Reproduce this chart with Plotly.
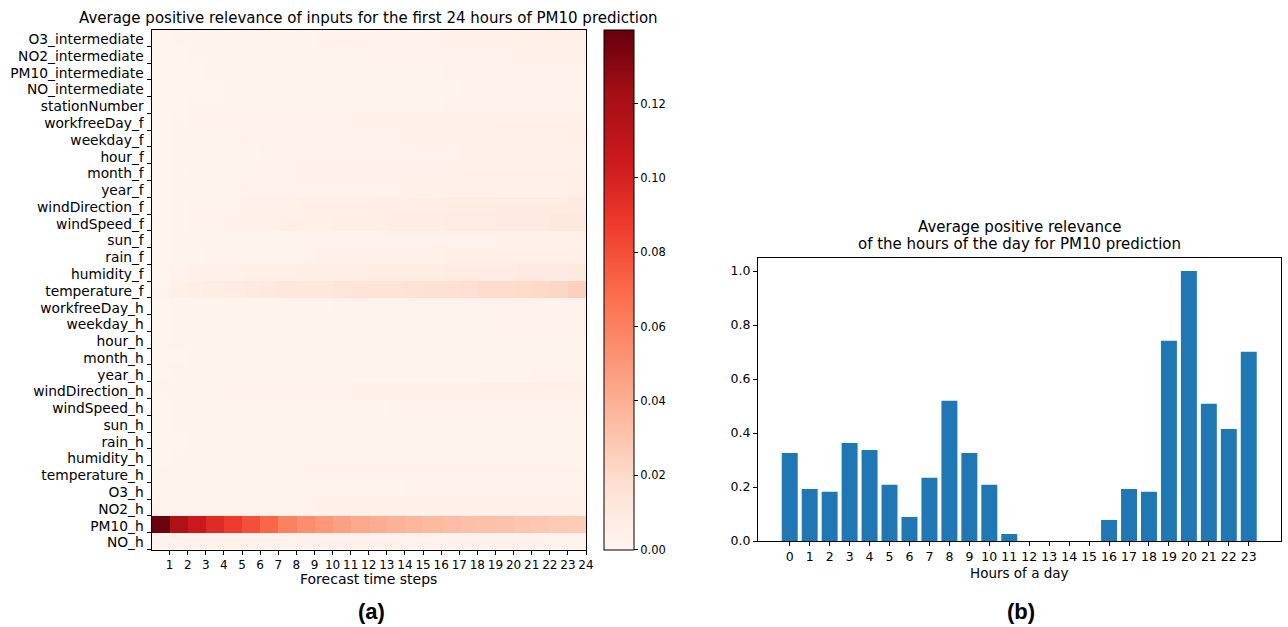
import plotly.graph_objects as go

W, H = 1288, 627

features = ["O3_intermediate", "NO2_intermediate", "PM10_intermediate", "NO_intermediate",
            "stationNumber", "workfreeDay_f", "weekday_f", "hour_f", "month_f", "year_f",
            "windDirection_f", "windSpeed_f", "sun_f", "rain_f", "humidity_f", "temperature_f",
            "workfreeDay_h", "weekday_h", "hour_h", "month_h", "year_h", "windDirection_h",
            "windSpeed_h", "sun_h", "rain_h", "humidity_h", "temperature_h", "O3_h", "NO2_h",
            "PM10_h", "NO_h"]
steps = list(range(1, 25))

# relevance values (x 0.001), rows in the order of `features`
O3_intermediate   = [1,2,2,2,2,2,2,2,2,3,3,3,3,3,3,3,4,4,4,4,5,5,5,5]
NO2_intermediate  = [1,1,2,2,2,2,2,2,2,2,2,2,3,3,3,3,3,3,3,3,4,4,4,4]
PM10_intermediate = [1,1,1,2,2,2,2,2,2,2,2,2,2,2,2,2,3,3,3,3,3,3,3,3]
NO_intermediate   = [1,1,1,1,2,2,2,2,2,2,2,2,2,2,2,2,2,3,3,3,3,3,3,3]
stationNumber     = [1,1,2,2,2,2,2,2,2,2,2,2,2,2,2,2,3,3,3,3,3,3,3,3]
workfreeDay_f     = [1,2,3,3,3,3,3,3,3,3,3,4,4,4,4,4,4,4,4,5,5,5,5,5]
weekday_f         = [1,2,2,2,2,3,3,3,3,3,3,3,3,3,4,4,4,4,4,4,4,4,4,5]
hour_f            = [1,2,2,2,2,2,3,3,3,3,3,3,3,3,3,3,3,4,4,4,4,4,4,4]
month_f           = [1,2,3,3,3,3,3,3,4,4,4,4,4,4,4,4,4,5,5,5,5,5,5,5]
year_f            = [1,2,2,2,2,3,3,3,3,3,3,3,3,3,4,4,4,4,4,4,4,4,4,5]
windDirection_f   = [1,2,3,3,3,4,4,4,5,5,5,5,6,6,6,6,7,7,7,8,8,8,8,9]
windSpeed_f       = [1,2,3,3,4,4,4,5,5,5,6,6,6,7,7,7,8,8,8,9,9,9,10,10]
sun_f             = [1,2,2,2,2,2,2,2,3,3,3,3,3,3,3,3,3,3,3,4,4,4,4,4]
rain_f            = [1,2,2,3,3,3,3,3,3,4,4,4,4,4,4,4,5,5,5,5,5,5,5,5]
humidity_f        = [1,3,4,4,4,5,5,5,6,6,6,6,7,7,7,7,8,8,8,8,9,9,9,10]
temperature_f     = [2,5,6,7,8,9,10,11,12,12,13,14,15,15,16,17,17,18,19,19,20,21,22,25]
workfreeDay_h     = [1,2,2,2,2,2,2,2,2,2,3,3,3,3,3,3,3,3,3,3,3,3,3,3]
weekday_h         = [1,2,2,2,2,2,2,2,2,2,2,2,2,2,2,2,2,2,2,3,3,3,3,3]
hour_h            = [1,2,2,2,2,2,2,2,2,2,2,2,3,3,3,3,3,3,3,3,3,3,3,3]
month_h           = [1,1,2,2,2,2,2,2,2,2,2,2,2,2,2,2,2,2,2,2,2,2,2,2]
year_h            = [1,2,2,2,2,2,2,2,2,2,2,2,2,2,2,2,2,2,2,2,2,3,3,3]
windDirection_h   = [2,2,2,2,3,3,3,3,3,3,3,4,4,4,4,4,4,4,5,5,5,5,5,5]
windSpeed_h       = [1,2,2,2,2,2,2,2,2,2,2,2,2,3,3,3,3,3,3,3,3,3,3,3]
sun_h             = [1,2,2,2,2,2,2,2,2,2,2,2,2,2,2,2,2,2,2,2,2,2,2,2]
rain_h            = [1,1,2,2,2,2,2,2,2,2,2,2,2,2,2,2,2,2,2,2,2,2,2,2]
humidity_h        = [1,2,2,2,2,2,2,2,2,2,2,2,2,2,2,2,2,2,2,2,2,2,2,2]
temperature_h     = [2,2,2,2,2,2,2,2,3,3,3,3,3,3,3,3,3,3,3,3,3,3,3,3]
O3_h              = [2,2,2,2,2,2,2,2,2,2,2,2,2,2,3,3,3,3,3,3,3,3,3,3]
NO2_h             = [3,3,3,3,3,3,3,3,3,4,4,4,4,4,4,4,4,4,4,4,4,4,4,4]
PM10_h            = [139,118,105,96,88,80,71,60,54,50,46,43,41,39,37,35,34,33,32,31,30,29,28,27]
NO_h              = [3,3,3,3,3,3,3,3,3,3,3,3,3,3,3,3,3,3,3,3,3,3,3,3]

rows = [O3_intermediate, NO2_intermediate, PM10_intermediate, NO_intermediate, stationNumber,
        workfreeDay_f, weekday_f, hour_f, month_f, year_f, windDirection_f, windSpeed_f,
        sun_f, rain_f, humidity_f, temperature_f, workfreeDay_h, weekday_h, hour_h, month_h,
        year_h, windDirection_h, windSpeed_h, sun_h, rain_h, humidity_h, temperature_h,
        O3_h, NO2_h, PM10_h, NO_h]
z = [[v / 1000 for v in r] for r in rows]

hours = list(range(24))
hour_relevance = [0.326, 0.193, 0.182, 0.363, 0.337, 0.208, 0.089, 0.234, 0.519, 0.326,
                  0.208, 0.026, 0.0, 0.0, 0.0, 0.0, 0.078, 0.193, 0.182, 0.742, 1.0,
                  0.508, 0.415, 0.701]

cbar_ticks = [0.0, 0.02, 0.04, 0.06, 0.08, 0.10, 0.12]
bar_yticks = [0.0, 0.2, 0.4, 0.6, 0.8, 1.0]

reds = [[0.0, "#fff5f0"], [0.125, "#fee0d2"], [0.25, "#fcbba1"], [0.375, "#fc9272"],
        [0.5, "#fb6a4a"], [0.625, "#ef3b2c"], [0.75, "#cb181d"], [0.875, "#a50f15"],
        [1.0, "#67000d"]]

FONT = "DejaVu Sans"

def px(x):
    return x / W

def py(y):
    return 1 - y / H

# pixel geometry
hx0, hx1, hy0, hy1 = 151.5, 586, 29.5, 549.5
bx0, bx1, by0, by1 = 758, 1280.5, 257.5, 541

fig = go.Figure()

fig.add_trace(go.Heatmap(
    z=z,
    x=[s - 0.5 for s in steps],
    y=list(range(len(features))),
    colorscale=reds, zmin=0, zmax=0.1399,
    xaxis="x", yaxis="y",
    colorbar=dict(
        x=px(604), xanchor="left", y=py(hy0), yanchor="top",
        lenmode="pixels", len=hy1 - hy0, thicknessmode="pixels", thickness=30,
        outlinecolor="black", outlinewidth=1,
        tickvals=cbar_ticks, tickformat=".2f", ticks="outside", ticklen=4,
        tickcolor="black", tickfont=dict(family=FONT, size=11.5, color="black"),
        xpad=0, ypad=0,
    ),
    showscale=True,
))

fig.add_trace(go.Bar(
    x=hours, y=hour_relevance, width=0.8, marker_color="#1f77b4",
    marker_line_width=0, xaxis="x2", yaxis="y2", showlegend=False,
))

axis_common = dict(showline=True, linecolor="black", linewidth=1, mirror=True,
                   ticks="outside", ticklen=4, tickcolor="black", showgrid=False,
                   zeroline=False, automargin=False)

fig.update_layout(
    width=W, height=H,
    margin=dict(l=0, r=0, t=0, b=0),
    paper_bgcolor="white", plot_bgcolor="white",
    showlegend=False,
    font=dict(family=FONT, color="black"),
    xaxis=dict(domain=[px(hx0), px(hx1)], range=[0, 24], tickvals=steps, anchor="y",
               ticktext=[str(s) for s in steps],
               tickfont=dict(family=FONT, size=12, color="black"), **axis_common),
    yaxis=dict(domain=[py(hy1), py(hy0)], range=[len(features) - 0.5, -0.5], anchor="x",
               tickvals=[i + 0.5 for i in range(len(features))], ticktext=features,
               ticklabelshift=7,
               tickfont=dict(family=FONT, size=13.8, color="black"), **axis_common),
    xaxis2=dict(domain=[px(bx0), px(bx1)], range=[-1.59, 24.59], tickvals=hours, anchor="y2",
                ticktext=[str(h) for h in hours],
                tickfont=dict(family=FONT, size=12.5, color="black"), **axis_common),
    yaxis2=dict(domain=[py(by1), py(by0)], range=[0, 1.05], tickvals=bar_yticks, anchor="x2",
                tickformat=".1f",
                tickfont=dict(family=FONT, size=12.5, color="black"), **axis_common),
)

ann = [
    dict(text="Average positive relevance of inputs for the first 24 hours of PM10 prediction",
         x=px((hx0 + hx1) / 2), y=py(18), size=15, fam=FONT),
    dict(text="Forecast time steps", x=px((hx0 + hx1) / 2), y=py(579), size=14, fam=FONT),
    dict(text="Average positive relevance", x=px((bx0 + bx1) / 2), y=py(227), size=15, fam=FONT),
    dict(text="of the hours of the day for PM10 prediction", x=px((bx0 + bx1) / 2), y=py(244),
         size=15, fam=FONT),
    dict(text="Hours of a day", x=px((bx0 + bx1) / 2), y=py(573), size=13.5, fam=FONT),
    dict(text="<b>(a)</b>", x=px(371), y=py(611), size=22, fam="Liberation Sans"),
    dict(text="<b>(b)</b>", x=px(1021), y=py(611), size=22, fam="Liberation Sans"),
]
for a in ann:
    fig.add_annotation(text=a["text"], x=a["x"], y=a["y"], xref="paper", yref="paper",
                       xanchor="center", yanchor="middle", showarrow=False,
                       font=dict(family=a["fam"], size=a["size"], color="black"))

fig.write_html("out.html", config={"displayModeBar": False},
               post_script="document.body.style.margin='0';document.body.style.padding='0';")
